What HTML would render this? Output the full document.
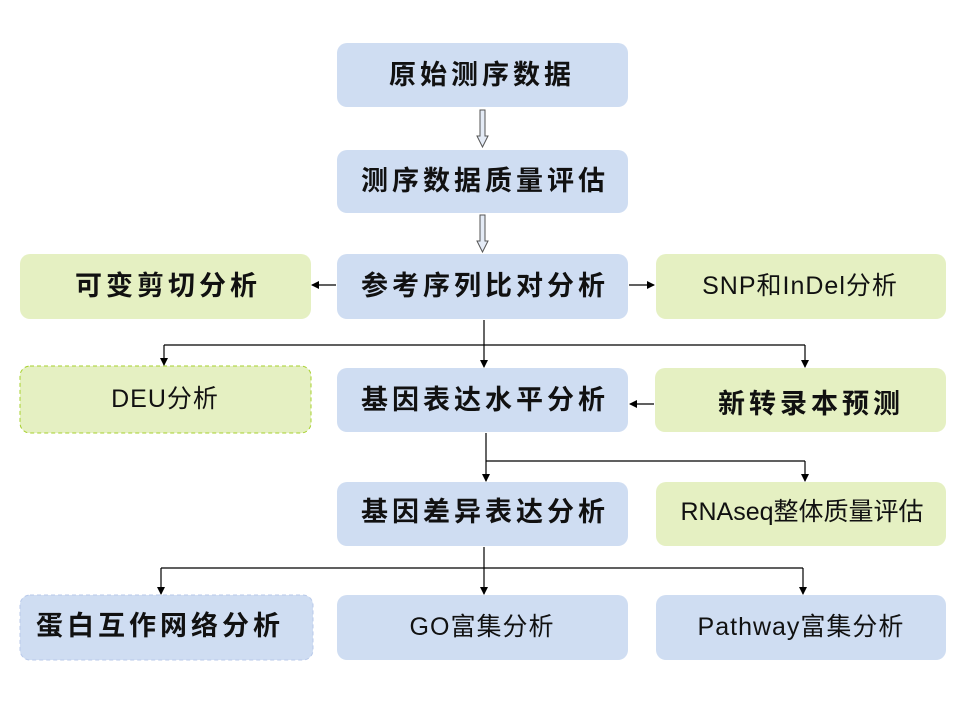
<!DOCTYPE html>
<html><head><meta charset="utf-8"><style>
html,body{margin:0;padding:0;background:#fff;}
svg{display:block}
text{font-family:"Liberation Sans","Noto Sans CJK SC",sans-serif;font-size:27px;fill:#111;text-anchor:middle;dominant-baseline:central;letter-spacing:4px;font-weight:bold}
text.n{font-weight:normal;font-size:25px;letter-spacing:1px}
</style></head><body>
<svg width="960" height="720" viewBox="0 0 960 720">
<defs><marker id="a" markerWidth="8" markerHeight="8" refX="7" refY="4" orient="auto" markerUnits="userSpaceOnUse"><path d="M0,0 L8,4 L0,8z" fill="#000"/></marker></defs>
<g fill="#cfddf2">
<rect x="337" y="43" width="291" height="64" rx="10"/>
<rect x="337" y="150" width="291" height="63" rx="10"/>
<rect x="337" y="254" width="291" height="65" rx="10"/>
<rect x="337" y="368" width="291" height="64" rx="10"/>
<rect x="337" y="482" width="291" height="64" rx="10"/>
<rect x="337" y="595" width="291" height="65" rx="10"/>
<rect x="656" y="595" width="290" height="65" rx="10"/>
<rect x="20" y="595" width="293" height="65" rx="10" stroke="#b8c9ea" stroke-dasharray="4,3"/>
</g>
<g fill="#e5f0c2">
<rect x="20" y="254" width="291" height="65" rx="10"/>
<rect x="656" y="254" width="290" height="65" rx="10"/>
<rect x="20" y="366" width="291" height="67" rx="10" stroke="#a6d02c" stroke-dasharray="4,3"/>
<rect x="655" y="368" width="291" height="64" rx="10"/>
<rect x="656" y="482" width="290" height="64" rx="10"/>
</g>
<g fill="#e4ebf6" stroke="#555" stroke-width="1">
<path d="M480,110 h5 v26 h3 l-5.5,11 l-5.5,-11 h3z"/>
<path d="M480,215 h5 v26 h3 l-5.5,11 l-5.5,-11 h3z"/>
</g>
<g stroke="#000" stroke-width="1.2" fill="none">
<line x1="336" y1="285" x2="312" y2="285" marker-end="url(#a)"/>
<line x1="629" y1="285" x2="654" y2="285" marker-end="url(#a)"/>
<polyline points="484,320 484,345"/>
<line x1="164" y1="345" x2="805" y2="345"/>
<line x1="164" y1="345" x2="164" y2="365" marker-end="url(#a)"/>
<line x1="484" y1="345" x2="484" y2="367" marker-end="url(#a)"/>
<line x1="805" y1="345" x2="805" y2="367" marker-end="url(#a)"/>
<line x1="654" y1="404" x2="630" y2="404" marker-end="url(#a)"/>
<line x1="486" y1="433" x2="486" y2="481" marker-end="url(#a)"/>
<line x1="486" y1="461" x2="805" y2="461"/>
<line x1="805" y1="461" x2="805" y2="481" marker-end="url(#a)"/>
<line x1="484" y1="547" x2="484" y2="594" marker-end="url(#a)"/>
<line x1="161" y1="568" x2="803" y2="568"/>
<line x1="161" y1="568" x2="161" y2="594" marker-end="url(#a)"/>
<line x1="803" y1="568" x2="803" y2="594" marker-end="url(#a)"/>
</g>
<text x="482" y="75">原始测序数据</text>
<text x="485" y="181">测序数据质量评估</text>
<text x="485" y="286">参考序列比对分析</text>
<text x="168" y="286">可变剪切分析</text>
<text class="n" x="800" y="286">SNP和InDel分析</text>
<text class="n" x="165" y="399">DEU分析</text>
<text x="485" y="400">基因表达水平分析</text>
<text x="811" y="404">新转录本预测</text>
<text x="485" y="512">基因差异表达分析</text>
<text class="n" x="802" y="512" style="letter-spacing:0">RNAseq整体质量评估</text>
<text x="160" y="626">蛋白互作网络分析</text>
<text class="n" x="482" y="627">GO富集分析</text>
<text class="n" x="801" y="627">Pathway富集分析</text>
</svg>
</body></html>
